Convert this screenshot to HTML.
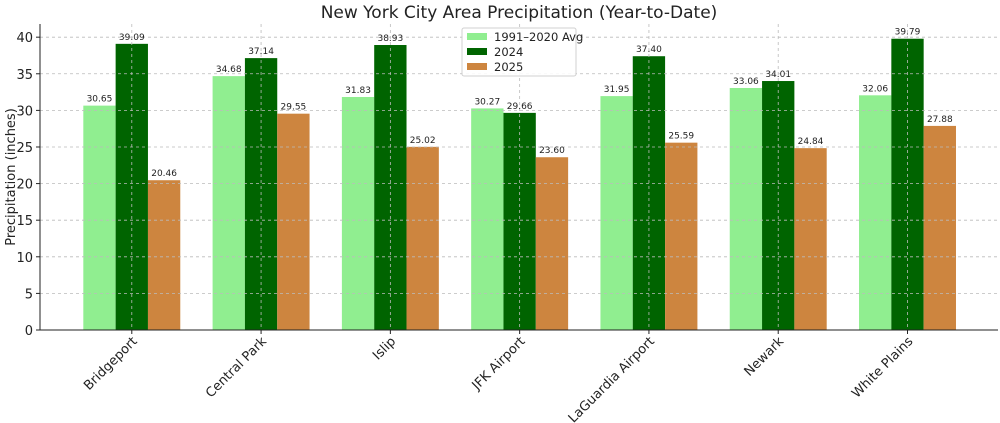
<!DOCTYPE html>
<html><head><meta charset="utf-8"><style>body{margin:0;background:#fff}svg{display:block;font-family:"DejaVu Sans","Liberation Sans",sans-serif}</style></head>
<body>
<svg id="chart" width="1000" height="423" viewBox="0 0 1000 423" xmlns="http://www.w3.org/2000/svg">
<text x="519" y="18" text-anchor="middle" font-size="17" fill="#222">New York City Area Precipitation (Year-to-Date)</text>
<text transform="translate(15,177) rotate(-90)" text-anchor="middle" font-size="13" fill="#222">Precipitation (inches)</text>
<g id="bars"></g><g id="grid"></g><g id="axes"></g><g id="labels"></g>
<g>
<rect x="462" y="28" width="114" height="48" fill="#fff" stroke="#ccc" rx="2" opacity="0.9"/>
<rect x="467" y="33" width="20" height="7" fill="#90ee90"/>
<text x="494" y="41" font-size="11.5" fill="#222">1991–2020 Avg</text>
<rect x="467" y="48" width="20" height="7" fill="#006400"/>
<text x="494" y="56" font-size="11.5" fill="#222">2024</text>
<rect x="467" y="63" width="20" height="7" fill="#cd853f"/>
<text x="494" y="71" font-size="11.5" fill="#222">2025</text>
</g>
</svg>
<script>
const categories=["Bridgeport","Central Park","Islip","JFK Airport","LaGuardia Airport","Newark","White Plains"];
const avgValues=[30.65,34.68,31.83,30.27,31.95,33.06,32.06];
const values2024=[39.09,37.14,38.93,29.66,37.40,34.01,39.79];
const values2025=[20.46,29.55,25.02,23.60,25.59,24.84,27.88];
const yTicks=[0,5,10,15,20,25,30,35,40];
const NS="http://www.w3.org/2000/svg";
const L=40,R=998,T=24,B=330,yMax=41.8,xMin=-0.71,xMax=6.70;
const x=v=>L+(v-xMin)/(xMax-xMin)*(R-L);
const y=v=>B-v/yMax*(B-T);
function mk(tag,attrs,parent){const e=document.createElementNS(NS,tag);for(const k in attrs)e.setAttribute(k,attrs[k]);parent.appendChild(e);return e;}
const bars=document.getElementById('bars'),grid=document.getElementById('grid'),axes=document.getElementById('axes'),labels=document.getElementById('labels');
const series=[[avgValues,"#90ee90","avg",-0.25],[values2024,"#006400","2024",0],[values2025,"#cd853f","2025",0.25]];
const bw=0.25;
series.forEach(([vals,col,nm,off])=>{
 vals.forEach((v,i)=>{
  const r=mk('rect',{x:x(i+off-bw/2),y:y(v),width:x(i+off+bw/2)-x(i+off-bw/2),height:y(0)-y(v),fill:col},bars);
  
  
  const t=mk('text',{x:x(i+off),y:y(v)-4,'text-anchor':'middle','font-size':'9','fill':'#222'},labels);
  t.textContent=v.toFixed(2);
  
  
 });
});
yTicks.forEach(v=>{
 const g=mk('line',{x1:L,x2:R,y1:y(v),y2:y(v),stroke:'#bbb','stroke-dasharray':'3,3','stroke-width':0.8},grid);
 
 
 mk('line',{x1:L-4,x2:L,y1:y(v),y2:y(v),stroke:'#222'},axes);
 const t=mk('text',{x:L-7,y:y(v)+5,'text-anchor':'end','font-size':'13','fill':'#222'},axes);
 t.textContent=v;
 
 
});
categories.forEach((c,i)=>{
 const g=mk('line',{x1:x(i),x2:x(i),y1:T,y2:B,stroke:'#bbb','stroke-dasharray':'3,3','stroke-width':0.8},grid);
 
 
 mk('line',{x1:x(i),x2:x(i),y1:B,y2:B+4,stroke:'#222'},axes);
 const t=mk('text',{transform:`translate(${x(i)+6},${B+12}) rotate(-45)`,'text-anchor':'end','font-size':'13','fill':'#222'},axes);
 t.textContent=c;
 
 
});
const ax=mk('path',{d:`M${L},${T} L${L},${B} L${R},${B}`,fill:'none',stroke:'#222','stroke-width':1},axes);


</script>
</body></html>
